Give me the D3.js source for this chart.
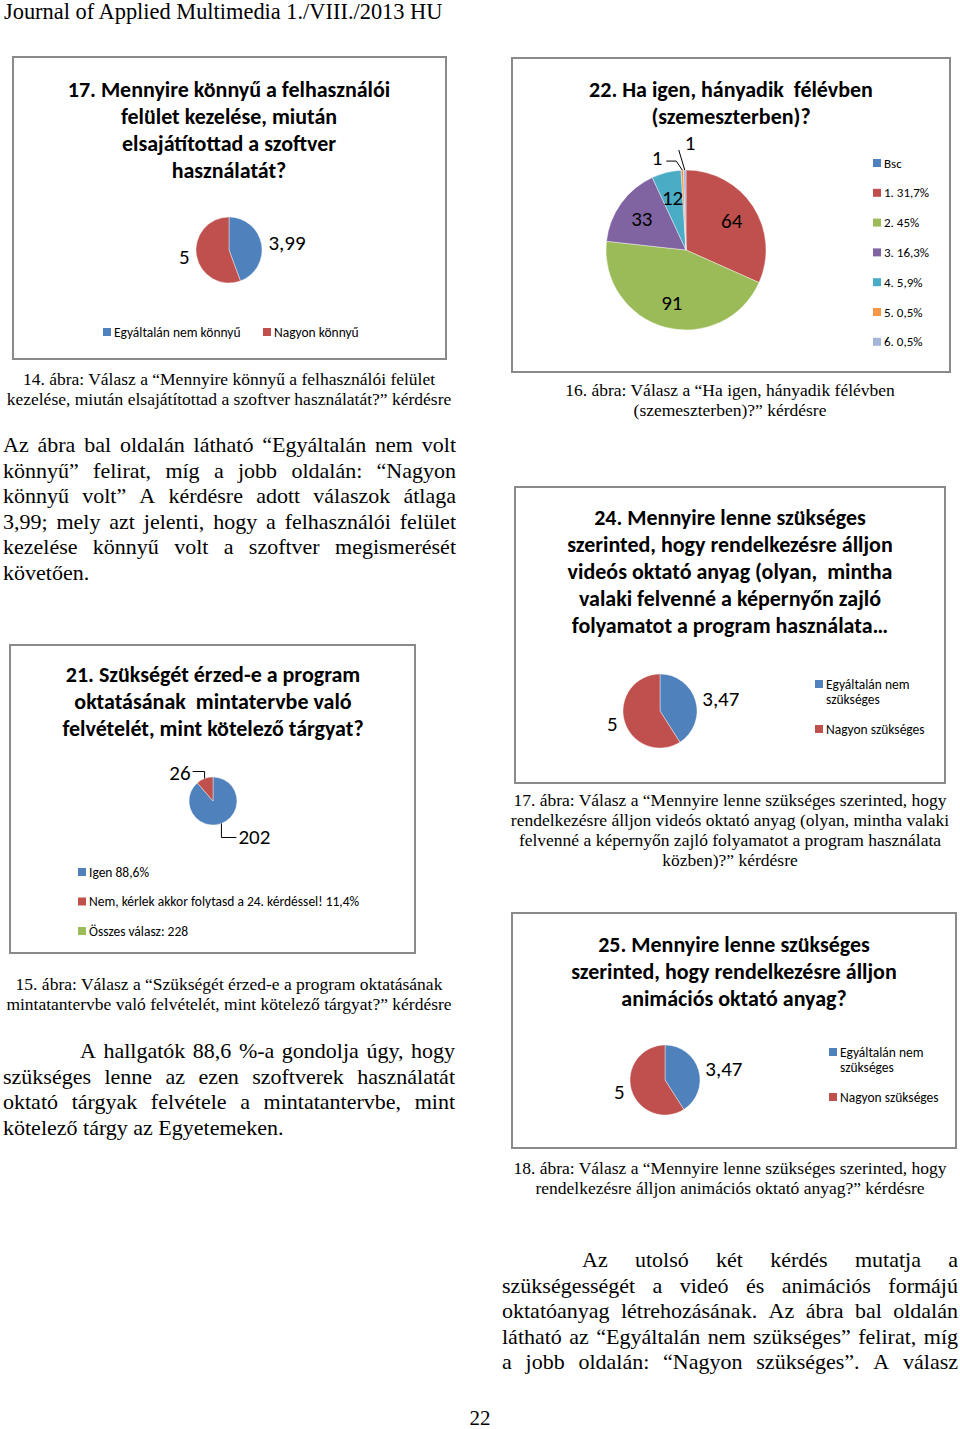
<!DOCTYPE html>
<html>
<head>
<meta charset="utf-8">
<script src="https://cdn.jsdelivr.net/npm/d3@7"></script>
<style>
  html, body { margin: 0; padding: 0; background: #fff; }
  svg { display: block; }
</style>
</head>
<body>
<div id="page"></div>
<script>
// ---------------- DATA ----------------
const chart17Title = ["17. Mennyire könnyű a felhasználói", "felület kezelése, miután", "elsajátítottad a szoftver", "használatát?"];
const chart17Categories = ["Egyáltalán nem könnyű", "Nagyon könnyű"];
const chart17Values = [3.99, 5];
const chart17Labels = ["3,99", "5"];

const chart22Title = ["22. Ha igen, hányadik  félévben", "(szemeszterben)?"];
const chart22Categories = ["Bsc", "1. 31,7%", "2. 45%", "3. 16,3%", "4. 5,9%", "5. 0,5%", "6. 0,5%"];
const chart22Values = [0, 64, 91, 33, 12, 1, 1];
const chart22Labels = ["", "64", "91", "33", "12", "1", "1"];

const chart21Title = ["21. Szükségét érzed-e a program", "oktatásának  mintatervbe való", "felvételét, mint kötelező tárgyat?"];
const chart21Categories = ["Igen 88,6%", "Nem, kérlek akkor folytasd a 24. kérdéssel! 11,4%", "Összes válasz: 228"];
const chart21Values = [202, 26, 0];
const chart21Labels = ["202", "26", ""];

const chart24Title = ["24. Mennyire lenne szükséges", "szerinted, hogy rendelkezésre álljon", "videós oktató anyag (olyan,  mintha", "valaki felvenné a képernyőn zajló", "folyamatot a program használata\u2026"];
const chart24Categories = ["Egyáltalán nem szükséges", "Nagyon szükséges"];
const chart24Values = [3.47, 5];
const chart24Labels = ["3,47", "5"];

const chart25Title = ["25. Mennyire lenne szükséges", "szerinted, hogy rendelkezésre álljon", "animációs oktató anyag?"];
const chart25Categories = ["Egyáltalán nem szükséges", "Nagyon szükséges"];
const chart25Values = [3.47, 5];
const chart25Labels = ["3,47", "5"];

const seriesColors = ["#4F81BD", "#C0504D", "#9BBB59", "#8064A2", "#4BACC6", "#F79646", "#A5B5D8"];

const headerText = "Journal of Applied Multimedia 1./VIII./2013 HU";
const caption14 = ["14. ábra: Válasz a \u201cMennyire könnyű a felhasználói felület", "kezelése, miután elsajátítottad a szoftver használatát?\u201d kérdésre"];
const paragraph1 = ["Az ábra bal oldalán látható \u201cEgyáltalán nem volt", "könnyű\u201d felirat, míg a jobb oldalán: \u201cNagyon", "könnyű volt\u201d A kérdésre adott válaszok átlaga", "3,99; mely azt jelenti, hogy a felhasználói felület", "kezelése könnyű volt a szoftver megismerését", "követően."];
const caption15 = ["15. ábra: Válasz a \u201cSzükségét érzed-e a program oktatásának", "mintatantervbe való felvételét, mint kötelező tárgyat?\u201d kérdésre"];
const paragraph2 = ["A hallgatók 88,6 %-a gondolja úgy, hogy", "szükséges lenne az ezen szoftverek használatát", "oktató tárgyak felvétele a mintatantervbe, mint", "kötelező tárgy az Egyetemeken."];
const caption16 = ["16. ábra: Válasz a \u201cHa igen, hányadik félévben", "(szemeszterben)?\u201d kérdésre"];
const caption17 = ["17. ábra: Válasz a \u201cMennyire lenne szükséges szerinted, hogy", "rendelkezésre álljon videós oktató anyag (olyan, mintha valaki", "felvenné a képernyőn zajló folyamatot a program használata", "közben)?\u201d kérdésre"];
const caption18 = ["18. ábra: Válasz a \u201cMennyire lenne szükséges szerinted, hogy", "rendelkezésre álljon animációs oktató anyag?\u201d kérdésre"];
const paragraph3 = ["Az utolsó két kérdés mutatja a", "szükségességét a videó és animációs formájú", "oktatóanyag létrehozásának. Az ábra bal oldalán", "látható az \u201cEgyáltalán nem szükséges\u201d felirat, míg", "a jobb oldalán: \u201cNagyon szükséges\u201d. A válasz"];
const pageNumber = "22";

// ---------------- RENDER ----------------
const W = 960, H = 1429;
const serif = "'Liberation Serif', 'Times New Roman', serif";
const sans = "Carlito, Calibri, Lato, 'Open Sans', sans-serif";

const svg = d3.select("#page").append("svg").attr("width", W).attr("height", H)
  .style("font-family", serif);
svg.append("rect").attr("width", W).attr("height", H).attr("fill", "#fff");

function measure(str, size, family, weight) {
  const t = svg.append("text").style("font-family", family).style("font-size", size + "px")
    .style("font-weight", weight || "normal").text(str);
  const w = t.node().getComputedTextLength();
  t.remove();
  return w;
}

function justifyLine(g, str, x0, x1, y, size, family) {
  const words = str.split(" ");
  const widths = words.map(w => measure(w, size, family));
  const gap = (x1 - x0 - d3.sum(widths)) / (words.length - 1);
  const t = g.append("text").attr("y", y).style("font-family", family).style("font-size", size + "px").attr("fill", "#000");
  let x = x0;
  words.forEach((w, i) => { t.append("tspan").attr("x", x).text(w); x += widths[i] + gap; });
}

function plainLine(g, str, x, y, size, family, anchor) {
  g.append("text").attr("x", x).attr("y", y).attr("text-anchor", anchor || "start")
    .style("font-family", family).style("font-size", size + "px").attr("fill", "#000").text(str);
}

// Header
plainLine(svg, headerText, 4, 19, 22.4, serif);

// Captions (centered)
function caption(lines, cx, y0, step) {
  lines.forEach((l, i) => plainLine(svg, l, cx, y0 + i * step, 17.5, serif, "middle"));
}
caption(caption14, 229, 385, 20);
caption(caption15, 229, 990, 20);
caption(caption16, 730, 396, 20);
caption(caption17, 730, 806, 20);
caption(caption18, 730, 1174, 20);

// Paragraphs (justified)
function paragraph(lines, x0, x1, y0, step, firstIndent, lastJustified) {
  lines.forEach((l, i) => {
    const xs = i === 0 ? x0 + firstIndent : x0;
    const isLast = i === lines.length - 1;
    if (isLast && !lastJustified) plainLine(svg, l, xs, y0 + i * step, 22, serif);
    else justifyLine(svg, l, xs, x1, y0 + i * step, 22, serif);
  });
}
paragraph(paragraph1, 3, 456, 452, 25.5, 0, false);
paragraph(paragraph2, 3, 455, 1058, 25.5, 77, false);
paragraph(paragraph3, 502, 958, 1267, 25.5, 80, true);

plainLine(svg, pageNumber, 480, 1425, 21, serif, "middle");

// ---------------- PIE CHARTS ----------------
function frame(x, y, w, h) {
  svg.append("rect").attr("x", x).attr("y", y).attr("width", w).attr("height", h)
    .attr("fill", "#fff").attr("stroke", "#8a8a8a").attr("stroke-width", 2);
}

function title(lines, cx, y0, size) {
  const g = svg.append("g");
  lines.forEach((l, i) => {
    g.append("text").attr("x", cx).attr("y", y0 + i * 27).attr("text-anchor", "middle")
      .style("font-family", sans).style("font-size", size + "px").style("font-weight", "bold")
      .attr("fill", "#000").style("white-space", "pre").text(l);
  });
}

function pie(cfg) {
  const g = svg.append("g").attr("transform", `translate(${cfg.cx},${cfg.cy})`);
  const color = d3.scaleOrdinal().domain(cfg.categories).range(seriesColors);
  const data = cfg.values.map((v, i) => ({ cat: cfg.categories[i], v, label: cfg.labels[i], i }));
  const arcs = d3.pie().sort(null).value(d => d.v)(data);
  const arc = d3.arc().innerRadius(0).outerRadius(cfg.r);
  g.selectAll("path").data(arcs.filter(a => a.data.v > 0)).join("path")
    .attr("d", arc).attr("fill", d => color(d.data.cat))
    .attr("stroke", "#fff").attr("stroke-width", 0.4);
  arcs.forEach(a => {
    if (!a.data.label) return;
    const mid = (a.startAngle + a.endAngle) / 2;
    const mode = cfg.labelMode(a.data.i);
    const edge = [Math.sin(mid) * cfg.r, -Math.cos(mid) * cfg.r];
    let x, y, anchor = "middle";
    if (mode.type === "inside") {
      const rr = cfg.r * mode.k;
      x = Math.sin(mid) * rr; y = -Math.cos(mid) * rr;
    } else if (mode.type === "outside") {
      const rr = cfg.r + mode.gap;
      x = Math.sin(mid) * rr; y = -Math.cos(mid) * rr;
      anchor = Math.sin(mid) >= 0 ? "start" : "end";
    } else if (mode.type === "leader") {
      const pts = [edge].concat(mode.path.map(p => [edge[0] + p[0], edge[1] + p[1]]));
      g.append("path").attr("d", d3.line()(pts)).attr("fill", "none")
        .attr("stroke", "#000").attr("stroke-width", 1);
      x = edge[0] + mode.lx; y = edge[1] + mode.ly; anchor = mode.anchor;
    }
    g.append("text").attr("x", x).attr("y", y).attr("dy", "0.35em").attr("text-anchor", anchor)
      .style("font-family", sans).style("font-size", cfg.labelSize + "px").attr("fill", "#000")
      .text(a.data.label);
  });
  const lg = svg.append("g");
  cfg.categories.forEach((c, i) => {
    const [lx, ly] = cfg.legendPos(i);
    lg.append("rect").attr("x", lx).attr("y", ly - 4).attr("width", 8).attr("height", 8).attr("fill", color(c));
    const lines = cfg.legendLines ? cfg.legendLines(c) : [c];
    lines.forEach((ln, j) => {
      lg.append("text").attr("x", lx + 11).attr("y", ly + j * 15).attr("dy", "0.35em")
        .style("font-family", sans).style("font-size", cfg.legendSize + "px").attr("fill", "#000").text(ln);
    });
  });
}

// Chart 17
frame(13, 57, 433, 302);
title(chart17Title, 229, 97, 22);
pie({
  cx: 229, cy: 250, r: 33, categories: chart17Categories, values: chart17Values, labels: chart17Labels,
  labelSize: 21, labelMode: () => ({ type: "outside", gap: 7 }),
  legendPos: i => [[103, 332], [263, 332]][i], legendSize: 13.5
});

// Chart 22
frame(512, 58, 438, 314);
title(chart22Title, 731, 97, 22);
pie({
  cx: 686, cy: 250, r: 80, categories: chart22Categories, values: chart22Values, labels: chart22Labels,
  labelSize: 21,
  labelMode: i => {
    if (i === 5) return { type: "leader", path: [[-6, -9], [-16, -9]], lx: -20, ly: -12, anchor: "end" };
    if (i === 6) return { type: "leader", path: [[-6, -20]], lx: 0, ly: -27, anchor: "start" };
    return { type: "inside", k: 0.68 };
  },
  legendPos: i => [873, 163 + i * 29.8], legendSize: 13
});

// Chart 21
frame(10, 645, 405, 308);
title(chart21Title, 213, 682, 22);
pie({
  cx: 213, cy: 801, r: 24, categories: chart21Categories, values: chart21Values, labels: chart21Labels,
  labelSize: 21,
  labelMode: i => i === 0
    ? { type: "leader", path: [[0, 14], [15, 14]], lx: 17, ly: 13, anchor: "start" }
    : { type: "leader", path: [[0, -7], [-12, -7]], lx: -14, ly: -6, anchor: "end" },
  legendPos: i => [78, 872 + i * 29.5], legendSize: 13.5
});

// Chart 24
frame(515, 487, 430, 296);
title(chart24Title, 730, 525, 22);
pie({
  cx: 660, cy: 711, r: 37, categories: chart24Categories, values: chart24Values, labels: chart24Labels,
  labelSize: 21, labelMode: () => ({ type: "outside", gap: 7 }),
  legendPos: i => [[815, 684], [815, 729]][i], legendSize: 13.5,
  legendLines: c => c === "Egyáltalán nem szükséges" ? ["Egyáltalán nem", "szükséges"] : [c]
});

// Chart 25
frame(512, 913, 444, 235);
title(chart25Title, 734, 952, 22);
pie({
  cx: 665, cy: 1080, r: 35, categories: chart25Categories, values: chart25Values, labels: chart25Labels,
  labelSize: 21, labelMode: () => ({ type: "outside", gap: 7 }),
  legendPos: i => [[829, 1052], [829, 1097]][i], legendSize: 13.5,
  legendLines: c => c === "Egyáltalán nem szükséges" ? ["Egyáltalán nem", "szükséges"] : [c]
});
</script>
</body>
</html>
